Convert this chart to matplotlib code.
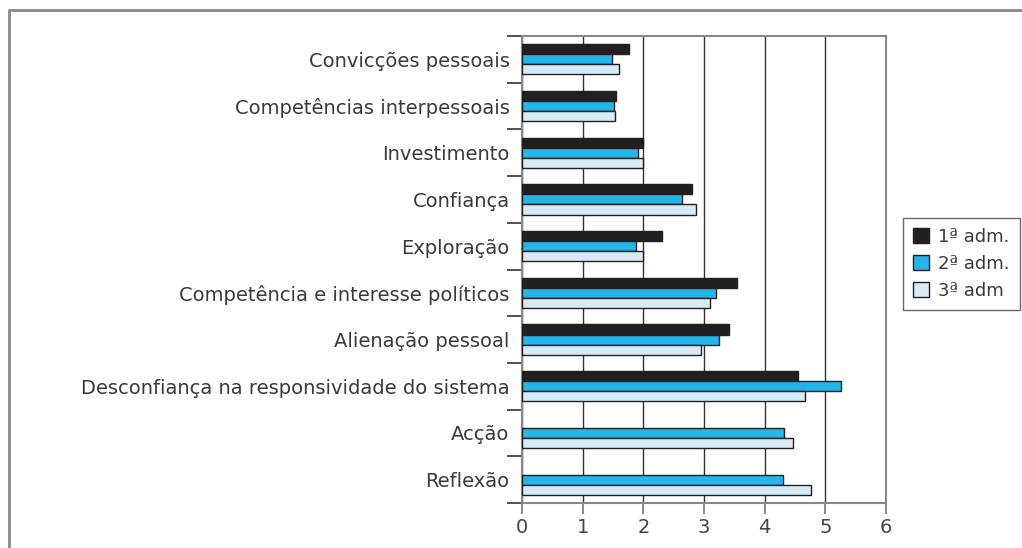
import numpy as np
import matplotlib.pyplot as plt
from matplotlib.lines import Line2D

categories = [
    "Convicções pessoais",
    "Competências interpessoais",
    "Investimento",
    "Confiança",
    "Exploração",
    "Competência e interesse políticos",
    "Alienação pessoal",
    "Desconfiança na responsividade do sistema",
    "Acção",
    "Reflexão",
]
adm1 = [1.76, 1.55, 2.00, 2.80, 2.31, 3.55, 3.41, 4.55, np.nan, np.nan]
adm2 = [1.49, 1.52, 1.91, 2.64, 1.88, 3.19, 3.25, 5.25, 4.32, 4.30]
adm3 = [1.60, 1.54, 1.99, 2.86, 1.99, 3.10, 2.95, 4.67, 4.46, 4.77]
series_labels = ["1ª adm.", "2ª adm.", "3ª adm"]
colors = ["#231f20", "#25b5e8", "#d5ebf8"]

plt.rcParams["font.family"] = "DejaVu Sans"
fig = plt.figure(figsize=(10.22, 5.48), dpi=100)
ax = fig.add_axes([522 / 1022, 1 - 503 / 548, 364 / 1022, 467 / 548])

y = np.arange(len(categories))
h = 0.215
for i, (vals, lab, c) in enumerate(zip([adm1, adm2, adm3], series_labels, colors)):
    ax.barh(y + (i - 1) * h, vals, height=h, color=c, edgecolor="#231f20",
            linewidth=1, label=lab, zorder=3)

ax.set_xlim(0, 6)
ax.set_ylim(len(categories) - 0.5, -0.5)
ax.set_xticks(range(7))
ax.set_yticks(y)
ax.set_yticklabels(categories)
ax.set_yticks(np.arange(-0.5, len(categories)), minor=True)
ax.tick_params(axis="y", which="major", length=0, pad=9, labelsize=14, labelcolor="#3a3a3a")
ax.tick_params(axis="y", which="minor", length=11, width=1.2, color="#333333")
ax.tick_params(axis="x", length=8, width=1.2, color="#777777", labelsize=14,
               labelcolor="#444444", pad=3)
ax.grid(axis="x", color="#333333", linewidth=1, zorder=0)
for s in ax.spines.values():
    s.set_color("#888888")
    s.set_linewidth(1.5)

leg = fig.legend(loc="upper left", bbox_to_anchor=(903 / 1022, 1 - 218 / 548),
                 frameon=True, fancybox=False, edgecolor="#444444", fontsize=13,
                 handlelength=0.9, handleheight=0.9, handletextpad=0.5,
                 borderaxespad=0, labelspacing=0.5, borderpad=0.55)
leg.get_frame().set_linewidth(1)
for t in leg.get_texts():
    t.set_color("#3a3a3a")

fx = 9 / 1022
fy = 1 - 10 / 548
fig.add_artist(Line2D([fx, fx, 1], [0, fy, fy], color="#888888", linewidth=2,
                      transform=fig.transFigure))

fig.savefig("out.png", dpi=100)
